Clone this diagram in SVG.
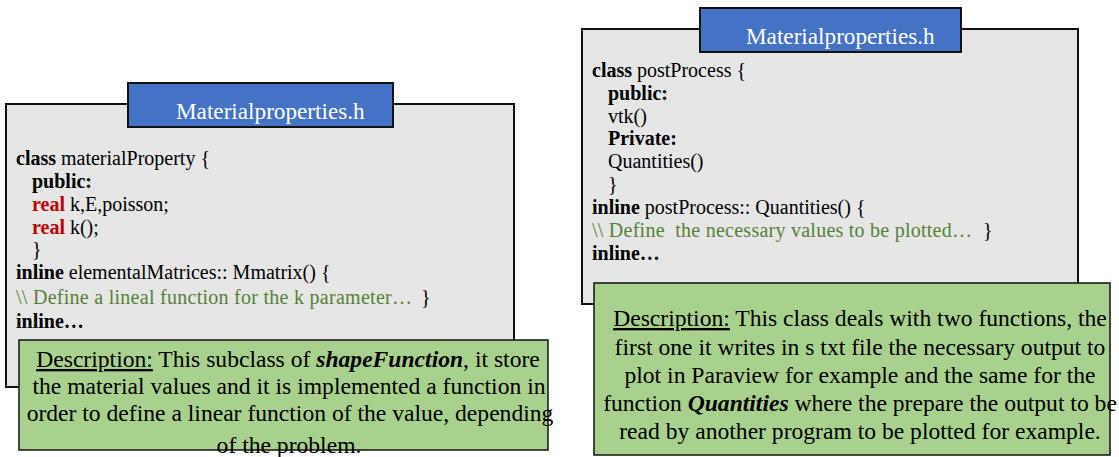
<svg xmlns="http://www.w3.org/2000/svg" width="1119" height="457" viewBox="0 0 1119 457" font-family="Liberation Serif, Times New Roman, serif">
<style>
.file{fill:#e6e6e6;stroke:#111;stroke-width:2}
.tab{fill:#4472c4;stroke:#111;stroke-width:2}
.desc{fill:#a9d18e;stroke:#111;stroke-width:1.5}
.code{font-size:20px;fill:#000}
.tabt{font-size:23.2px;fill:#fff}
.dt{font-size:23.6px;fill:#000;text-anchor:middle}
.b{font-weight:bold}
.kw{font-weight:bold;fill:#c00000}
.cm{fill:#548235}
.u{text-decoration:underline}
.bi{font-weight:bold;font-style:italic}
</style>
<rect width="1119" height="457" fill="#fff"/>
<g id="left-file">
<rect class="file" x="6" y="104" width="508" height="283"/>
<text class="code" x="16" y="165"><tspan class="b">class</tspan> materialProperty {</text>
<text class="code b" x="32" y="188">public:</text>
<text class="code" x="32" y="211"><tspan class="kw">real</tspan> k,E,poisson;</text>
<text class="code" x="32" y="234"><tspan class="kw">real</tspan> k();</text>
<text class="code" x="32" y="256">}</text>
<text class="code" x="16" y="279"><tspan class="b">inline</tspan> elementalMatrices:: Mmatrix() {</text>
<text class="code cm" x="16" y="304" textLength="396" lengthAdjust="spacing">\\ Define a lineal function for the k parameter…</text>
<text class="code" x="421" y="304">}</text>
<text class="code b" x="16" y="328">inline…</text>
</g>
<g id="left-tab">
<rect class="tab" x="128" y="83" width="265" height="44"/>
<text class="tabt" x="176" y="119">Materialproperties.h</text>
</g>
<g id="left-desc">
<rect class="desc" x="19" y="340" width="529" height="110"/>
<text class="dt" x="288" y="367"><tspan class="u">Description:</tspan> This subclass of <tspan class="bi">shapeFunction</tspan>, it store</text>
<text class="dt" x="289" y="394">the material values and it is implemented a function in</text>
<text class="dt" x="290" y="421">order to define a linear function of the value, depending</text>
<text class="dt" x="289" y="453">of the problem.</text>
</g>
<g id="right-file">
<rect class="file" x="582" y="29" width="496" height="275"/>
<text class="code" x="592" y="77"><tspan class="b">class</tspan> postProcess {</text>
<text class="code b" x="608" y="100">public:</text>
<text class="code" x="608" y="123">vtk()</text>
<text class="code b" x="608" y="145">Private:</text>
<text class="code" x="608" y="168">Quantities()</text>
<text class="code" x="608" y="191">}</text>
<text class="code" x="592" y="214"><tspan class="b">inline</tspan> postProcess:: Quantities() {</text>
<text class="code cm" x="592" y="237" xml:space="preserve" textLength="380" lengthAdjust="spacing">\\ Define  the necessary values to be plotted…</text>
<text class="code" x="983" y="237">}</text>
<text class="code b" x="592" y="260">inline…</text>
</g>
<g id="right-tab">
<rect class="tab" x="700" y="8" width="261" height="44"/>
<text class="tabt" x="746" y="44">Materialproperties.h</text>
</g>
<g id="right-desc">
<rect class="desc" x="594" y="283" width="516" height="172"/>
<text class="dt" x="860" y="326"><tspan class="u">Description:</tspan> This class deals with two functions, the</text>
<text class="dt" x="860" y="355">first one it writes in s txt file the necessary output to</text>
<text class="dt" x="860" y="383">plot in Paraview for example and the same for the</text>
<text class="dt" x="860" y="411">function <tspan class="bi">Quantities</tspan> where the prepare the output to be</text>
<text class="dt" x="860" y="439">read by another program to be plotted for example.</text>
</g>
<g id="connectors"/>
</svg>
